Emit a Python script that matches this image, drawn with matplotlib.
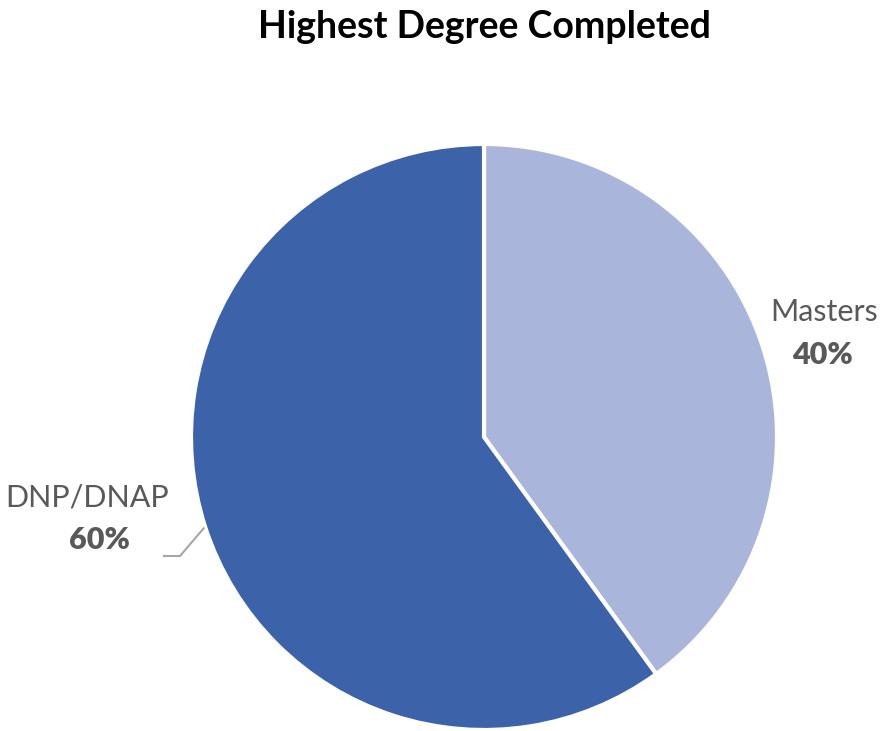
import numpy as np
import matplotlib
matplotlib.use('Agg')
import matplotlib.pyplot as plt

# degree breakdown
degrees = ['Masters', 'DNP/DNAP']
shares = [40, 60]
colors = ['#A9B5DA', '#3C63AA']

plt.rcParams['font.family'] = ['Lato', 'DejaVu Sans']

fig = plt.figure(figsize=(8.85, 7.31), dpi=100)
ax = fig.add_axes([0, 0, 1, 1])

cx, cy, r = 484, 294, 293
ax.pie(shares, colors=colors, startangle=90, counterclock=False,
       center=(cx, cy), radius=r, frame=True,
       wedgeprops=dict(edgecolor='white', linewidth=3))
ax.set_xlim(0, 885)
ax.set_ylim(0, 731)
ax.set_aspect('equal')
ax.axis('off')

ax.text(484, 731 - 27, 'Highest Degree Completed', ha='center', va='center',
        fontsize=27, fontweight='bold', color='black')

grey = '#595959'
# Masters label, right of the pie
ax.text(824, 731 - 312, degrees[0], ha='center', va='center', fontsize=22, color=grey)
ax.text(822, 731 - 355, '%d%%' % shares[0], ha='center', va='center', fontsize=22,
        fontweight='heavy', color=grey)

# DNP/DNAP label with leader line
ax.text(87, 731 - 497, degrees[1], ha='center', va='center', fontsize=22, color=grey)
ax.text(99, 731 - 540, '%d%%' % shares[1], ha='center', va='center', fontsize=22,
        fontweight='heavy', color=grey)
ang = np.deg2rad(198)
px, py = cx + r * np.cos(ang), cy + r * np.sin(ang)
ax.plot([px - 1, 180, 163], [py, 731 - 556, 731 - 556], color='#A6A6A6', lw=1.5,
        solid_capstyle='butt')

fig.savefig('out.png', dpi=100, facecolor='white')
